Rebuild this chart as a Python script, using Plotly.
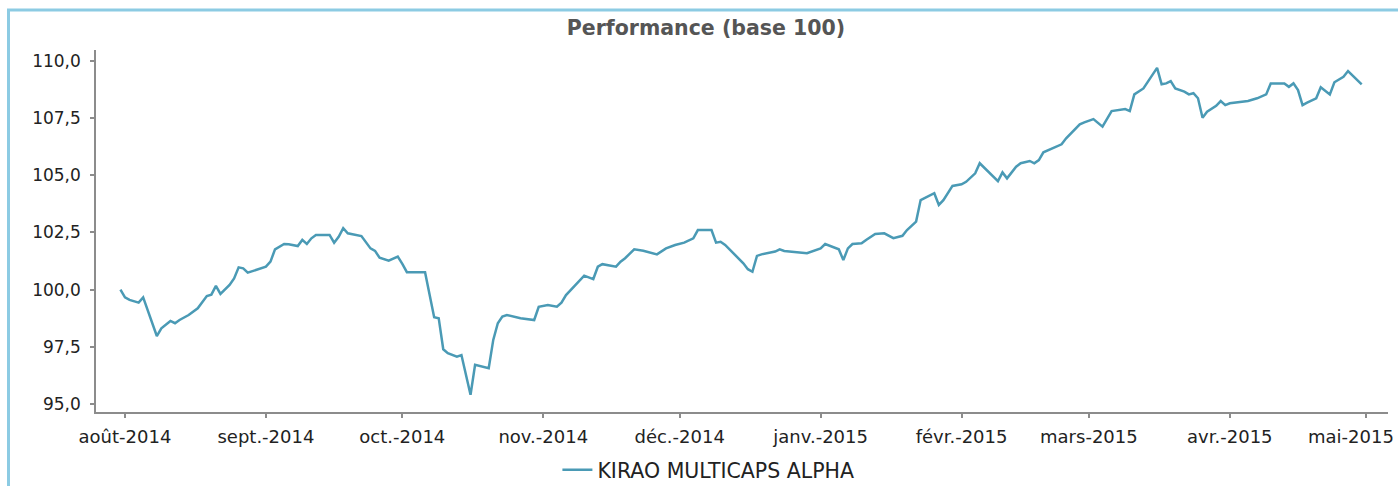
import plotly.graph_objects as go

series_name = "KIRAO MULTICAPS ALPHA"
dates = [
    "2014-07-31", "2014-08-01", "2014-08-02", "2014-08-04", "2014-08-05", "2014-08-08", "2014-08-09",
    "2014-08-11", "2014-08-12", "2014-08-13", "2014-08-15", "2014-08-17", "2014-08-19", "2014-08-20",
    "2014-08-21", "2014-08-22", "2014-08-24", "2014-08-25", "2014-08-26", "2014-08-27", "2014-08-28",
    "2014-08-30", "2014-09-01", "2014-09-02", "2014-09-03", "2014-09-05", "2014-09-06", "2014-09-08",
    "2014-09-09", "2014-09-10", "2014-09-11", "2014-09-12", "2014-09-15", "2014-09-16", "2014-09-17",
    "2014-09-18", "2014-09-19", "2014-09-22", "2014-09-23", "2014-09-24", "2014-09-25", "2014-09-26",
    "2014-09-28", "2014-09-30", "2014-10-01", "2014-10-02", "2014-10-06", "2014-10-08", "2014-10-09",
    "2014-10-10", "2014-10-11", "2014-10-13", "2014-10-14", "2014-10-16", "2014-10-17", "2014-10-20",
    "2014-10-21", "2014-10-22", "2014-10-23", "2014-10-24", "2014-10-27", "2014-10-30", "2014-10-31",
    "2014-11-02", "2014-11-04", "2014-11-05", "2014-11-06", "2014-11-10", "2014-11-12", "2014-11-13",
    "2014-11-14", "2014-11-17", "2014-11-18", "2014-11-19", "2014-11-21", "2014-11-23", "2014-11-26",
    "2014-11-28", "2014-11-30", "2014-12-02", "2014-12-04", "2014-12-05", "2014-12-08", "2014-12-09",
    "2014-12-10", "2014-12-11", "2014-12-15", "2014-12-16", "2014-12-17", "2014-12-18", "2014-12-19",
    "2014-12-22", "2014-12-23", "2014-12-24", "2014-12-29", "2015-01-01", "2015-01-02", "2015-01-05",
    "2015-01-06", "2015-01-07", "2015-01-08", "2015-01-10", "2015-01-11", "2015-01-13", "2015-01-15",
    "2015-01-17", "2015-01-19", "2015-01-20", "2015-01-22", "2015-01-23", "2015-01-26", "2015-01-27",
    "2015-01-28", "2015-01-30", "2015-02-01", "2015-02-02", "2015-02-04", "2015-02-05", "2015-02-09",
    "2015-02-10", "2015-02-11", "2015-02-13", "2015-02-14", "2015-02-16", "2015-02-17", "2015-02-18",
    "2015-02-19", "2015-02-23", "2015-02-24", "2015-02-27", "2015-02-28", "2015-03-02", "2015-03-04",
    "2015-03-06", "2015-03-09", "2015-03-10", "2015-03-11", "2015-03-13", "2015-03-16", "2015-03-17",
    "2015-03-18", "2015-03-19", "2015-03-20", "2015-03-22", "2015-03-23", "2015-03-24", "2015-03-25",
    "2015-03-26", "2015-03-27", "2015-03-29", "2015-03-30", "2015-03-31", "2015-04-01", "2015-04-05",
    "2015-04-07", "2015-04-09", "2015-04-10", "2015-04-13", "2015-04-14", "2015-04-15", "2015-04-16",
    "2015-04-17", "2015-04-18", "2015-04-20", "2015-04-21", "2015-04-23", "2015-04-24", "2015-04-26",
    "2015-04-27", "2015-04-29", "2015-04-30",
]
values = [
    100.0, 99.66, 99.55, 99.43, 99.66, 97.97, 98.31,
    98.63, 98.53, 98.67, 98.89, 99.18, 99.72, 99.78,
    100.16, 99.81, 100.2, 100.49, 100.97, 100.93, 100.74,
    100.86, 101.0, 101.22, 101.76, 101.99, 101.98, 101.9,
    102.17, 101.99, 102.24, 102.39, 102.39, 102.05, 102.31,
    102.68, 102.46, 102.34, 102.09, 101.8, 101.69, 101.39,
    101.26, 101.44, 101.12, 100.76, 100.76, 98.79, 98.75,
    97.39, 97.22, 97.07, 97.14, 95.4, 96.71, 96.56,
    97.8, 98.53, 98.82, 98.89, 98.75, 98.67, 99.25,
    99.33, 99.25, 99.43, 99.76, 100.61, 100.46, 101.0,
    101.11, 101.0, 101.22, 101.37, 101.76, 101.7, 101.54,
    101.8, 101.95, 102.05, 102.24, 102.6, 102.6, 102.05,
    102.09, 101.95, 101.15, 100.89, 100.78, 101.47, 101.54,
    101.66, 101.76, 101.69, 101.59, 101.8, 101.99, 101.76,
    101.29, 101.8, 101.99, 102.02, 102.17, 102.43, 102.46,
    102.25, 102.35, 102.6, 102.97, 103.91, 104.21, 103.7,
    103.91, 104.53, 104.6, 104.71, 105.08, 105.52, 104.74,
    105.12, 104.86, 105.37, 105.52, 105.62, 105.52, 105.66,
    106.0, 106.35, 106.61, 107.22, 107.31, 107.45, 107.12,
    107.8, 107.89, 107.8, 108.53, 108.79, 109.69, 108.97,
    109.01, 109.11, 108.79, 108.65, 108.53, 108.58, 108.36,
    107.51, 107.77, 108.03, 108.24, 108.06, 108.14, 108.24,
    108.36, 108.53, 109.01, 109.01, 108.86, 109.01, 108.72,
    108.06, 108.17, 108.36, 108.84, 108.53, 109.06, 109.3,
    109.55, 109.16, 108.97,
]

tick_dates = ["2014-08-01", "2014-09-01", "2014-10-01", "2014-11-01", "2014-12-01",
              "2015-01-01", "2015-02-01", "2015-03-01", "2015-04-01", "2015-05-01"]
tick_labels = ["août-2014", "sept.-2014", "oct.-2014", "nov.-2014", "déc.-2014",
               "janv.-2015", "févr.-2015", "mars-2015", "avr.-2015", "mai-2015"]

title_text = "Performance (base 100)"

FONT = "DejaVu Sans"
LINE_COLOR = "#4a9ab5"
AXIS_COLOR = "#8c8c8c"
TEXT_COLOR = "#222222"

fig = go.Figure()
fig.add_trace(go.Scatter(
    x=dates, y=values, mode="lines", name=series_name,
    line=dict(color=LINE_COLOR, width=2.5),
))

# last tick label would spill past the right edge: draw it as a right-aligned note instead
shown_labels = tick_labels[:-1] + [""]

fig.update_layout(
    width=1398, height=486,
    margin=dict(l=96, r=10, t=50, b=74, autoexpand=False),
    paper_bgcolor="white", plot_bgcolor="white",
    separators=", ",
    showlegend=True,
    title=dict(text=title_text, x=0.505, xref="container", xanchor="center",
               y=1 - 28 / 486, yref="container", yanchor="middle",
               font=dict(family=FONT, size=20.5, color="#555555", weight="bold")),
    legend=dict(orientation="h", x=0.474, xanchor="center",
                y=1 - 470 / 486, yref="container", yanchor="middle",
                font=dict(family=FONT, size=20.5, color=TEXT_COLOR),
                bgcolor="rgba(0,0,0,0)"),
    font=dict(family=FONT, size=18, color=TEXT_COLOR),
)

fig.update_xaxes(
    type="date",
    range=["2014-07-25 15:00", "2015-05-05 19:00"],
    tickvals=tick_dates, ticktext=shown_labels,
    showgrid=False, zeroline=False, automargin=False,
    showline=True, linecolor=AXIS_COLOR, linewidth=1.5,
    ticks="outside", ticklen=4, tickcolor=AXIS_COLOR, tickwidth=1.5,
    tickfont=dict(family=FONT, size=18, color=TEXT_COLOR),
    ticklabelstandoff=4,
)
fig.update_yaxes(
    range=[94.65, 110.47],
    tick0=95, dtick=2.5, tickformat=".1f",
    showgrid=False, zeroline=False, automargin=False,
    showline=True, linecolor=AXIS_COLOR, linewidth=1.5,
    ticks="outside", ticklen=4, tickcolor=AXIS_COLOR, tickwidth=1.5,
    tickfont=dict(family=FONT, size=17, color=TEXT_COLOR),
    ticklabelstandoff=6,
)

fig.add_annotation(
    text=tick_labels[-1], xref="paper", yref="paper",
    x=(1396 - 96) / 1292, xanchor="right",
    y=(412 - 436) / 362, yanchor="middle",
    showarrow=False, font=dict(family=FONT, size=18, color=TEXT_COLOR),
)

# light blue frame around the chart (extends past right and bottom edges)
fig.add_shape(type="rect", xref="paper", yref="paper",
              x0=(8.5 - 96) / 1292, x1=(1420 - 96) / 1292,
              y0=(412 - 520) / 362, y1=(412 - 10) / 362,
              line=dict(color="#8ccbe3", width=3), fillcolor="rgba(0,0,0,0)", layer="below")

fig.write_html(
    "out.html",
    config={"displayModeBar": False},
    post_script="document.body.style.margin='0';document.body.style.overflow='hidden';",
)
